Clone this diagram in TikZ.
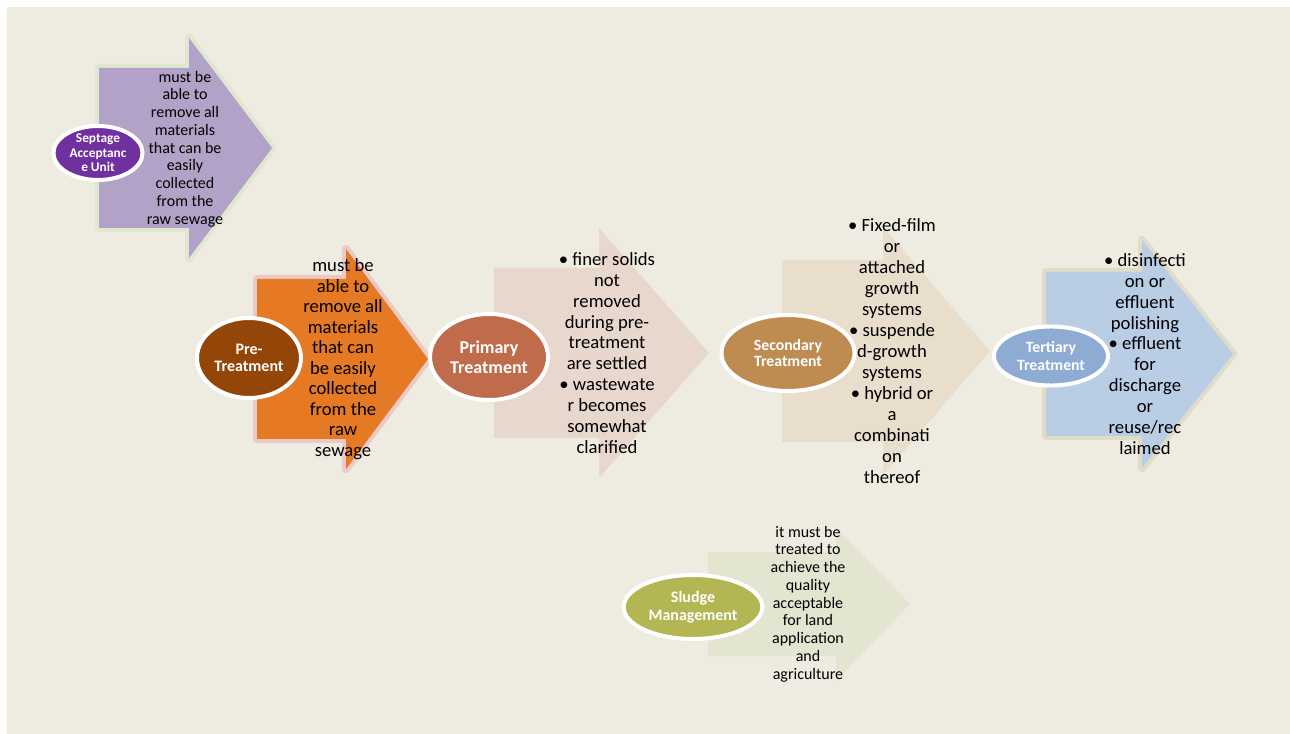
\documentclass[tikz,border=0pt]{standalone}
\usepackage{fontspec}
\setmainfont{Carlito}
\usetikzlibrary{shapes.geometric}
\definecolor{paper}{HTML}{EEECE1}
\definecolor{sepfill}{HTML}{B3A2C7}
\definecolor{sepglow}{HTML}{DFE7D0}
\definecolor{sepunit}{HTML}{7030A0}
\definecolor{prefill}{HTML}{E67A24}
\definecolor{preglow}{HTML}{EBC9C5}
\definecolor{preunit}{HTML}{944508}
\definecolor{primfill}{HTML}{E8D7CD}
\definecolor{primunit}{HTML}{C06B4C}
\definecolor{secfill}{HTML}{E9DDCC}
\definecolor{secunit}{HTML}{BE8C51}
\definecolor{terfill}{HTML}{B9CDE5}
\definecolor{terglow}{HTML}{DFDCC8}
\definecolor{terunit}{HTML}{8EABD3}
\definecolor{sludfill}{HTML}{E3E5D1}
\definecolor{sludunit}{HTML}{B4B553}
\tikzset{unit/.style={ellipse,draw=white,line width=3pt,inner sep=0pt},
unitname/.style={text=white,align=center,inner sep=0pt},
note/.style={text=black,align=center,inner sep=0pt},
glow/.style={preaction={draw=#1,line width=6pt,line join=round}}}
% #1 look, #2 left, #3 neck, #4 tip, #5 mid y, #6 half shaft, #7 half head
\newcommand{\stagearrow}[7]{%
  \path[#1] (#2,#5-#6) -- (#3,#5-#6) -- (#3,#5-#7) -- (#4,#5)
    -- (#3,#5+#7) -- (#3,#5+#6) -- (#2,#5+#6) -- cycle;}
\begin{document}
\begin{tikzpicture}[x=0.75pt,y=-0.75pt]
  \useasboundingbox (0,0) rectangle (1290,734);
  \fill[white] (0,0) rectangle (1290,734);
  \fill[paper] (7,7) rectangle (1290,734);

  % block arrows
  \stagearrow{fill=sepfill,glow=sepglow}{99}{189}{272}{148}{80}{110}
  \stagearrow{fill=prefill,glow=preglow}{257}{346}{428}{359}{80}{110}
  \stagearrow{fill=primfill}{494}{599}{709}{353}{85}{125}
  \stagearrow{fill=secfill}{782}{883}{990}{351}{91}{124}
  \stagearrow{fill=terfill,glow=terglow}{1046}{1142}{1233}{354}{82}{114}
  \stagearrow{fill=sludfill}{708}{836}{910}{604}{52}{77}

  % units
  \node (septage) [unit,fill=sepunit,minimum width=66.8pt,minimum height=40.5pt] at (98,153) {};
  \node (pre) [unit,fill=preunit,minimum width=78pt,minimum height=60pt] at (249,358) {};
  \node (primary) [unit,fill=primunit,minimum width=88.5pt,minimum height=64.5pt] at (489,357) {};
  \node (secondary) [unit,fill=secunit,minimum width=99.8pt,minimum height=57pt] at (788,353) {};
  \node (tertiary) [unit,fill=terunit,minimum width=85.5pt,minimum height=44.3pt] at (1051,356) {};
  \node (sludge) [unit,fill=sludunit,minimum width=104pt,minimum height=48pt] at (693,607) {};

  \node (septagename) [unitname,font=\fontsize{10}{10.9}\selectfont\bfseries] at (septage) {Septage\\Acceptanc\\e Unit};
  \node (prename) [unitname,font=\fontsize{12}{13}\selectfont\bfseries] at (pre) {Pre-\\Treatment};
  \node (primaryname) [unitname,font=\fontsize{13.5}{15}\selectfont\bfseries] at (primary) {Primary\\Treatment};
  \node (secondaryname) [unitname,font=\fontsize{11.8}{12.5}\selectfont\bfseries] at (secondary) {Secondary\\Treatment};
  \node (tertiaryname) [unitname,font=\fontsize{11.8}{13.2}\selectfont\bfseries] at (tertiary) {Tertiary\\Treatment};
  \node (sludgename) [unitname,font=\fontsize{12}{13.2}\selectfont\bfseries] at (sludge) {Sludge\\Management};

  % descriptions
  \node (septagenote) [note,font=\fontsize{12}{13.3}\selectfont] at (185,149)
    {must be\\able to\\remove all\\materials\\that can be\\easily\\collected\\from the\\raw sewage};
  \node (prenote) [note,font=\fontsize{14}{15.4}\selectfont] at (343,359)
    {must be\\able to\\remove all\\materials\\that can\\be easily\\collected\\from the\\raw\\sewage};
  \node (primarynote) [note,font=\fontsize{14}{15.7}\selectfont] at (607,353)
    {\textbullet\ finer solids\\not\\removed\\during pre-\\treatment\\are settled\\\textbullet\ wastewate\\r becomes\\somewhat\\clarified};
  \node (secondarynote) [note,font=\fontsize{14}{15.75}\selectfont] at (892,351)
    {\textbullet\ Fixed-film\\or\\attached\\growth\\systems\\\textbullet\ suspende\\d-growth\\systems\\\textbullet\ hybrid or\\a\\combinati\\on\\thereof};
  \node (tertiarynote) [note,font=\fontsize{14}{15.7}\selectfont] at (1145,354)
    {\textbullet\ disinfecti\\on or\\effluent\\polishing\\\textbullet\ effluent\\for\\discharge\\or\\reuse/rec\\laimed};
  \node (sludgenote) [note,font=\fontsize{12}{13.3}\selectfont] at (808,604)
    {it must be\\treated to\\achieve the\\quality\\acceptable\\for land\\application\\and\\agriculture};
\end{tikzpicture}
\end{document}
